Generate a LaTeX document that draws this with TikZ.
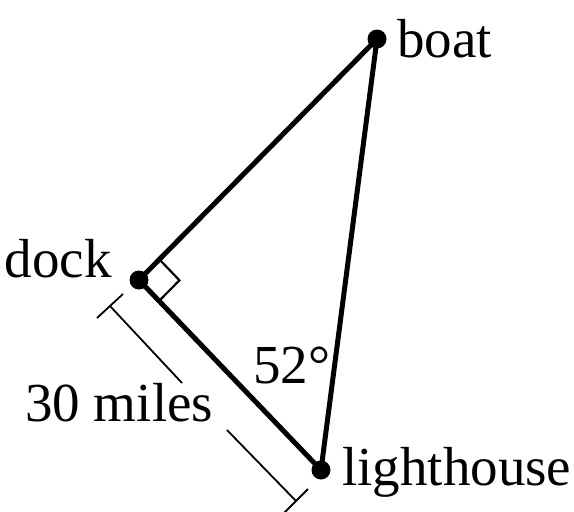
\documentclass[tikz,border=0pt]{standalone}
\usepackage{fontspec}
\setmainfont{Liberation Serif}
\usetikzlibrary{calc}

\begin{document}
\begin{tikzpicture}[
  x=1pt,y=-1pt,
  point/.style={circle,fill,inner sep=0pt,minimum size=19pt},
  label/.style={inner sep=0pt,font=\fontsize{55}{60}\selectfont},
  side/.style={line width=5pt,line join=round},
  dim/.style={line width=1.8pt}
]
  \useasboundingbox (0,0) rectangle (574,512);
  \coordinate (dock) at (139,280);
  \coordinate (boat) at (377,39);
  \coordinate (light) at (321,470);

  \draw[side] (boat) -- (dock) -- (light) -- cycle;

  % right angle at the dock
  \coordinate (ra1) at ($(dock)!29pt!(boat)$);
  \coordinate (ra2) at ($(dock)!29pt!(light)$);
  \draw[line width=2.2pt] (ra1) -- ($(ra1)+(ra2)-(dock)$) -- (ra2);

  \node[point] (dockpt) at (dock) {};
  \node[point] (boatpt) at (boat) {};
  \node[point] (lightpt) at (light) {};

  \node[label,anchor=base west] (boatlbl) at (397,57) {boat};
  \node[label,anchor=base east] (docklbl) at (112,277) {dock};
  \node[label,anchor=base west] (lightlbl) at (342,485) {lighthouse};
  \node[label,anchor=base west] (anglelbl) at (253,383) {52°};
  \node[label,anchor=base west] (distlbl) at (25,421) {30 miles};

  % dimension line
  \coordinate (t1a) at (97,318);
  \coordinate (t1b) at (123,294);
  \coordinate (t1) at (110,306);
  \coordinate (g1) at (182,383);
  \coordinate (g2) at (227,430);
  \coordinate (t2) at (296,501);
  \coordinate (t2a) at (284,513);
  \coordinate (t2b) at (308,489);
  \draw[dim] (t1a) -- (t1b);
  \draw[dim] (t1) -- (g1);
  \draw[dim] (g2) -- (t2);
  \draw[dim] (t2a) -- (t2b);
\end{tikzpicture}
\end{document}
